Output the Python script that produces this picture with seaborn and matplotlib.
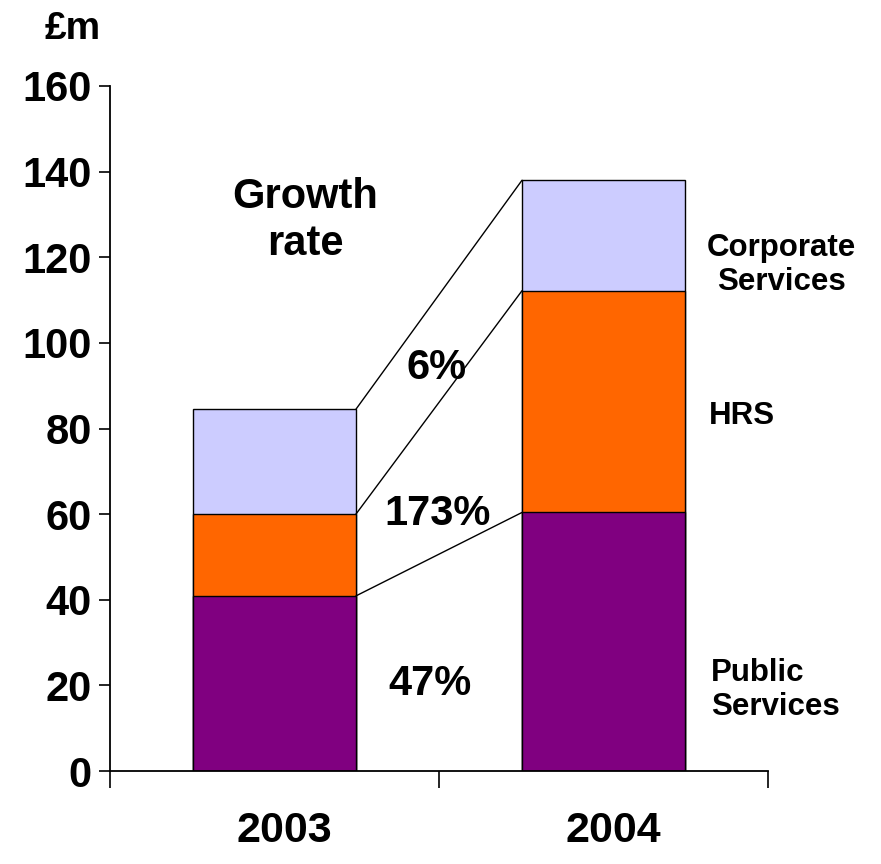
import matplotlib
matplotlib.use("Agg")
import matplotlib.pyplot as plt
import matplotlib.transforms as mtransforms
import seaborn as sns
import pandas as pd

sns.set_style("white")
plt.rcParams["font.family"] = ["Liberation Sans", "DejaVu Sans"]
plt.rcParams["font.weight"] = "bold"
plt.rcParams["text.color"] = "black"
plt.rcParams["axes.labelcolor"] = "black"
plt.rcParams["xtick.color"] = "black"
plt.rcParams["ytick.color"] = "black"

# Revenue by division, £m
years = ["2003", "2004"]
public_services = [40.9, 60.4]
hrs = [19.1, 51.8]
corporate_services = [24.5, 25.8]
growth_labels = ["47%", "173%", "6%"]
segment_names = ["Public\nServices", "HRS", "Corporate\nServices"]
y_ticks = [0, 20, 40, 60, 80, 100, 120, 140, 160]

colors = {"public": "#800080", "hrs": "#FF6600", "corporate": "#CCCCFF"}

# cumulative tops of each stacked segment
tops_public = public_services
tops_hrs = [p + h for p, h in zip(public_services, hrs)]
tops_corp = [t + c for t, c in zip(tops_hrs, corporate_services)]

df = pd.DataFrame({"year": years, "public": tops_public,
                   "hrs": tops_hrs, "corp": tops_corp})

fig = plt.figure(figsize=(8.81, 8.64), dpi=100)
ax = fig.add_axes([0.1249, 0.1076, 0.7468, 0.7929])

# stacked bars drawn from the tallest cumulative layer downward
bar_width = 0.495
for col, key in [("corp", "corporate"), ("hrs", "hrs"), ("public", "public")]:
    sns.barplot(data=df, x="year", y=col, color=colors[key], width=bar_width,
                saturation=1, edgecolor="black", linewidth=1.0, ax=ax)

# connector lines between segment tops of the two bars
half = bar_width / 2
for tops in (tops_public, tops_hrs, tops_corp):
    ax.plot([0 + half, 1 - half], [tops[0], tops[1]], color="black", lw=1.0,
            zorder=1)

ax.set_xlim(-0.5, 1.5)
ax.set_ylim(0, 160)
ax.set_yticks(y_ticks)
ax.set_yticklabels([str(t) for t in y_ticks], fontsize=30, fontweight="bold")
ax.set_xticks([-0.5, 0.5, 1.5])
ax.set_xticklabels([])
ax.set_xlabel("")
ax.set_ylabel("")
ax.tick_params(axis="y", direction="out", length=8, width=1.2, pad=5,
               left=True, colors="black")
ax.tick_params(axis="x", direction="out", length=12, width=1.2, bottom=True,
               colors="black")

for side in ("top", "right"):
    ax.spines[side].set_visible(False)
for side in ("left", "bottom"):
    ax.spines[side].set_color("black")
    ax.spines[side].set_linewidth(1.3)

# category labels below the axis
trans = mtransforms.blended_transform_factory(ax.transData, ax.transAxes)
for i, yr in enumerate(years):
    ax.text(i + 0.03, -0.088, yr, transform=trans, ha="center", va="center",
            fontsize=31, fontweight="bold", color="black", clip_on=False)

# growth rate annotations
ax.text(0.093, 128.6, "Growth\nrate", ha="center", va="center",
        fontsize=30, fontweight="bold", color="black")
growth_pos = [(0.473, 20.3), (0.497, 60.0), (0.494, 94.1)]
for (gx, gy), lab in zip(growth_pos, growth_labels):
    ax.text(gx, gy, lab, ha="center", va="center", fontsize=30,
            fontweight="bold", color="black")

# segment names on the right
name_pos = [(1.327, 18.9, "left"), (1.3207, 82.9, "left"),
            (1.3146, 118.2, "center")]
for (nx, ny, ma), lab in zip(name_pos, segment_names):
    ax.text(nx, ny, lab, ha="left", va="center", multialignment=ma,
            fontsize=22.5, fontweight="bold", color="black", clip_on=False)

fig.text(0.083, 0.966, "£m", ha="center", va="center", fontsize=28,
         fontweight="bold", color="black")

fig.savefig("out.png", dpi=100)
